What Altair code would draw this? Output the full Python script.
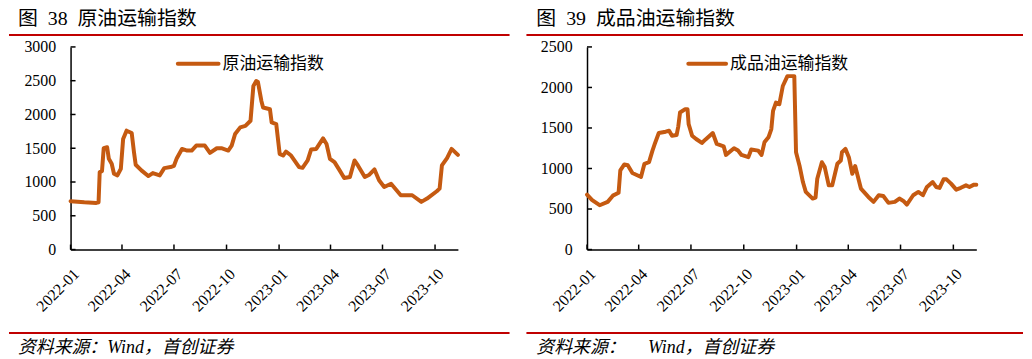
import altair as alt
import pandas as pd

# ---------------- data ----------------
tick_labels = ["2022-01", "2022-04", "2022-07", "2022-10", "2023-01", "2023-04", "2023-07", "2023-10"]
x_start = "2022-01-01"
x_end = "2023-11-10"

crude_dates = [
    "2022-01-01", "2022-01-25", "2022-02-15", "2022-02-19", "2022-02-21", "2022-02-25", "2022-02-28",
    "2022-03-06", "2022-03-09", "2022-03-14", "2022-03-18", "2022-03-24", "2022-03-30", "2022-04-03",
    "2022-04-09", "2022-04-18", "2022-04-22", "2022-04-25", "2022-05-05", "2022-05-17", "2022-05-25",
    "2022-06-06", "2022-06-14", "2022-06-25", "2022-07-01", "2022-07-06", "2022-07-15", "2022-07-24",
    "2022-08-01", "2022-08-09", "2022-08-24", "2022-09-02", "2022-09-14", "2022-09-22", "2022-10-04",
    "2022-10-10", "2022-10-16", "2022-10-25", "2022-11-03", "2022-11-12", "2022-11-17", "2022-11-22",
    "2022-11-25", "2022-12-01", "2022-12-04", "2022-12-16", "2022-12-19", "2022-12-27", "2023-01-02",
    "2023-01-08", "2023-01-13", "2023-01-22", "2023-02-05", "2023-02-11", "2023-02-20", "2023-02-26",
    "2023-03-07", "2023-03-19", "2023-03-25", "2023-03-31", "2023-04-08", "2023-04-17", "2023-04-25",
    "2023-05-05", "2023-05-13", "2023-05-19", "2023-05-31", "2023-06-08", "2023-06-17", "2023-06-25",
    "2023-07-04", "2023-07-16", "2023-08-02", "2023-08-22", "2023-09-07", "2023-09-17", "2023-10-04",
    "2023-10-09", "2023-10-13", "2023-10-22", "2023-10-30", "2023-11-10",
]
crude_values = [
    716, 700, 690, 700, 1147, 1160, 1500,
    1515, 1343, 1270, 1122, 1098, 1196, 1637,
    1760, 1725, 1441, 1255, 1172, 1088, 1132,
    1098, 1206, 1221, 1240, 1353, 1490, 1466,
    1466, 1539, 1539, 1431, 1500, 1500, 1466,
    1539, 1711, 1809, 1830, 1907, 2422, 2494,
    2480, 2201, 2103, 2078, 1882, 1858, 1417,
    1392, 1451, 1392, 1221, 1210, 1319, 1480,
    1490, 1647, 1564, 1343, 1294, 1172, 1059,
    1074, 1319, 1245, 1074, 1108, 1186, 1025,
    926, 975, 804, 804, 706, 755, 863,
    902, 1245, 1353, 1490, 1402,
]

product_dates = [
    "2022-01-01", "2022-01-10", "2022-01-23", "2022-02-06", "2022-02-15", "2022-02-25", "2022-02-28",
    "2022-03-07", "2022-03-13", "2022-03-21", "2022-04-05", "2022-04-11", "2022-04-19", "2022-04-25",
    "2022-04-29", "2022-05-06", "2022-05-18", "2022-05-24", "2022-05-29", "2022-06-06", "2022-06-09",
    "2022-06-12", "2022-06-21", "2022-06-25", "2022-06-27", "2022-07-03", "2022-07-10", "2022-07-20",
    "2022-07-26", "2022-08-08", "2022-08-15", "2022-08-27", "2022-08-31", "2022-09-14", "2022-09-21",
    "2022-09-27", "2022-10-09", "2022-10-14", "2022-10-26", "2022-11-01", "2022-11-06", "2022-11-13",
    "2022-11-18", "2022-11-21", "2022-11-26", "2022-12-02", "2022-12-08", "2022-12-16", "2022-12-28",
    "2022-12-31", "2023-01-06", "2023-01-12", "2023-01-17", "2023-01-29", "2023-02-03", "2023-02-06",
    "2023-02-14", "2023-02-19", "2023-02-26", "2023-03-04", "2023-03-13", "2023-03-19", "2023-03-21",
    "2023-03-27", "2023-04-02", "2023-04-08", "2023-04-13", "2023-04-23", "2023-05-06", "2023-05-15",
    "2023-05-24", "2023-06-01", "2023-06-10", "2023-06-21", "2023-06-29", "2023-07-06", "2023-07-12",
    "2023-07-23", "2023-08-01", "2023-08-09", "2023-08-16", "2023-08-26", "2023-09-01", "2023-09-07",
    "2023-09-14", "2023-09-19", "2023-09-27", "2023-10-06", "2023-10-14", "2023-10-23", "2023-10-29",
    "2023-11-06", "2023-11-10",
]
product_values = [
    678, 610, 547, 588, 665, 700, 976,
    1050, 1040, 944, 895, 1058, 1078, 1221,
    1303, 1438, 1454, 1466, 1405, 1413, 1520,
    1691, 1732, 1732, 1548, 1405, 1364, 1315,
    1356, 1438, 1303, 1274, 1168, 1250, 1221,
    1168, 1140, 1234, 1221, 1168, 1323, 1385,
    1487, 1712, 1814, 1793, 2018, 2140, 2140,
    1201, 1038, 833, 711, 629, 640, 874,
    1078, 1017, 792, 792, 1058, 1099, 1201,
    1242, 1140, 935, 1030, 752, 649, 588,
    670, 660, 576, 588, 629, 600, 555,
    670, 711, 670, 772, 833, 772, 760,
    866, 866, 813, 739, 762, 792, 772,
    801, 800,
]

# ---------------- styling ----------------
LINE_COLOR = "#C55A11"
RED = "#C00000"
NUM_FONT = "Liberation Serif"
CJK_FONT = "Noto Sans CJK SC"
PLOT_H = 204
NB = "\u00a0"


def to_dt(s):
    y, m, d = (int(v) for v in s.split("-"))
    return alt.DateTime(year=y, month=m, date=d)


def panel(dates, values, ymax, width, title, legend_label, footer,
          rule_left, rule_right, title_x, leg_x0, leg_x1):
    df = pd.DataFrame({"date": pd.to_datetime(dates), "value": values})
    tick_df = pd.DataFrame({"date": pd.to_datetime([t + "-01" for t in tick_labels])})
    ytick_df = pd.DataFrame({"value": list(range(0, ymax + 1, 500))})

    xenc = alt.X(
        "date:T",
        scale=alt.Scale(domain=[to_dt(x_start), to_dt(x_end)], nice=False),
        axis=alt.Axis(
            values=[to_dt(t + "-01") for t in tick_labels],
            format="%Y-%m", labelAngle=315, labelFont=NUM_FONT, labelFontSize=16,
            labelColor="black", tickSize=0, domainColor="black", domainWidth=1.5,
            grid=False, title=None, labelPadding=16, labelOverlap=False,
        ),
    )
    yenc = alt.Y(
        "value:Q",
        scale=alt.Scale(domain=[0, ymax], nice=False),
        axis=alt.Axis(
            values=list(range(0, ymax + 1, 500)), format="d", labelFont=NUM_FONT,
            labelFontSize=16, labelColor="black", tickSize=0, domainColor="black",
            domainWidth=1.5, grid=False, title=None, labelPadding=15,
        ),
    )

    line = alt.Chart(df).mark_line(
        color=LINE_COLOR, strokeWidth=4, strokeJoin="round", strokeCap="round"
    ).encode(x=xenc, y=yenc)

    xticks = alt.Chart(tick_df).mark_rule(color="black", strokeWidth=1.5).encode(
        x=xenc, y=alt.value(PLOT_H - 5), y2=alt.value(PLOT_H)
    )
    yticks = alt.Chart(ytick_df).mark_rule(color="black", strokeWidth=1.5).encode(
        y=yenc, x=alt.value(0), x2=alt.value(5)
    )

    one = pd.DataFrame({"t": [0]})
    leg_line = alt.Chart(one).mark_rule(
        color=LINE_COLOR, strokeWidth=4, strokeCap="round"
    ).encode(x=alt.value(leg_x0), x2=alt.value(leg_x1), y=alt.value(17))
    leg_text = alt.Chart(pd.DataFrame({"label": [legend_label]})).mark_text(
        align="left", baseline="middle", font=CJK_FONT, fontSize=17, color="black"
    ).encode(x=alt.value(leg_x1 + 4), y=alt.value(17), text="label:N")

    title_text = alt.Chart(pd.DataFrame({"label": [title]})).mark_text(
        align="left", baseline="middle", font=NUM_FONT + ", " + CJK_FONT,
        fontSize=20, color="black",
    ).encode(x=alt.value(title_x), y=alt.value(-28), text="label:N")

    top_rule = alt.Chart(one).mark_rule(color=RED, strokeWidth=2).encode(
        x=alt.value(rule_left), x2=alt.value(rule_right), y=alt.value(-12)
    )
    bottom_rule = alt.Chart(one).mark_rule(color=RED, strokeWidth=2).encode(
        x=alt.value(rule_left), x2=alt.value(rule_right), y=alt.value(288)
    )
    footer_text = alt.Chart(pd.DataFrame({"label": [footer]})).mark_text(
        align="left", baseline="middle", font=NUM_FONT + ", " + CJK_FONT,
        fontSize=18, fontStyle="italic", color="black",
    ).encode(x=alt.value(title_x), y=alt.value(303), text="label:N")

    # invisible frame rule that pins the top edge of the panel
    frame = alt.Chart(one).mark_rule(strokeOpacity=0, strokeWidth=1).encode(
        x=alt.value(rule_left), x2=alt.value(rule_left + 1), y=alt.value(-36)
    )

    return alt.layer(
        line, xticks, yticks, leg_line, leg_text, title_text,
        top_rule, bottom_rule, footer_text, frame,
    ).properties(width=width, height=PLOT_H)


left = panel(crude_dates, crude_values, 3000, 390,
             "图" + NB * 2 + "38" + NB * 2 + "原油运输指数", "原油运输指数",
             "资料来源：Wind，首创证券",
             -62, 442, -53, 108, 149)
right = panel(product_dates, product_values, 2500, 392,
              "图" + NB * 2 + "39" + NB * 2 + "成品油运输指数", "成品油运输指数",
              "资料来源：" + NB * 5 + "Wind，首创证券",
              -61, 439, -51, 102, 140)

chart = alt.hconcat(left, right, spacing=15).properties(
    padding=0, background="white"
).configure_view(stroke=None)

chart.save("out.html", embed_options={"renderer": "svg", "actions": False})
